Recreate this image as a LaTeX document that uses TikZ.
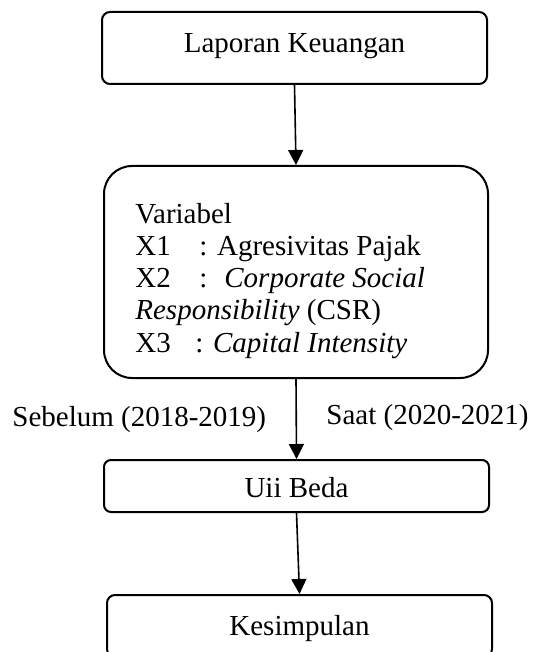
\documentclass[tikz,border=0pt]{standalone}
\usepackage{fontspec}
\setmainfont{Liberation Serif}
\usetikzlibrary{arrows.meta}

\tikzset{
  flowbox/.style={draw,line width=1pt,rounded corners=4pt,inner sep=0pt,
    minimum width=192.5pt,font=\fontsize{14.5}{16.1}\selectfont,
    text height=0.7em,text depth=0.25em},
  flowarrow/.style={-{Triangle[width=7.5pt,length=7.5pt]},line width=0.8pt},
  plaintext/.style={inner sep=0pt,font=\fontsize{14.5}{16.1}\selectfont},
}

\begin{document}
\begin{tikzpicture}[x=0.5pt,y=-0.5pt]
\useasboundingbox (0,0) rectangle (533,652);

\node[flowbox,minimum height=36pt] (lap) at (294.5,48) {Laporan Keuangan};
\node[flowbox,minimum width=192pt,minimum height=106pt,rounded corners=14pt] (var) at (296,272) {};
\node[plaintext,anchor=base west,align=left] (vartext) at (135,352) {Variabel\\
\makebox[32pt][l]{X1}: Agresivitas Pajak\\
\makebox[32pt][l]{X2}:~ \textit{Corporate Social}\\
\textit{Responsibility} (CSR)\\
\makebox[30pt][l]{X3}: \textit{Capital Intensity}};
\node[flowbox,minimum height=26pt,rounded corners=3.5pt,text height=1.4em] (uji) at (296.5,486) {Uii Beda};
\node[flowbox,minimum height=31pt,text height=1.2em] (simpul) at (299.5,626) {Kesimpulan};

\node[plaintext,anchor=base west] (before) at (12,426) {Sebelum (2018-2019)};
\node[plaintext,anchor=base west] (during) at (326,424) {Saat (2020-2021)};

\draw[flowarrow] (lap.south) -- (var.north);
\draw[flowarrow] (var.south) -- (uji.north);
\draw[flowarrow] (uji.south) -- (simpul.north);
\end{tikzpicture}
\end{document}
